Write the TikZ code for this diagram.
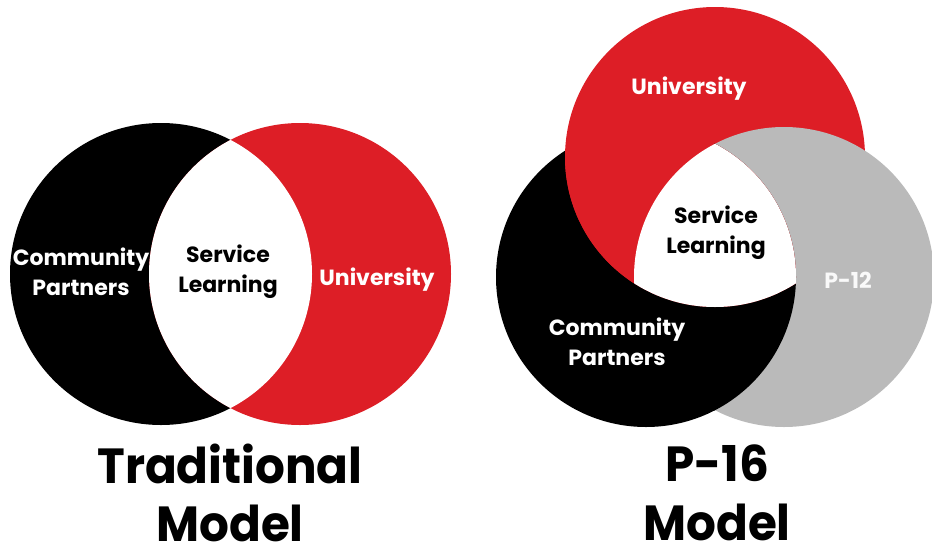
\documentclass[tikz,border=0pt]{standalone}
\usepackage{fontspec}
\setmainfont{Poppins}

\definecolor{uniRed}{RGB}{221,30,38}
\definecolor{pGray}{RGB}{186,186,186}

% circles of the two models
\def\tradComm{(161,274) circle (151)}
\def\tradUni{(300,274) circle (151)}
\def\pComm{(646,277) circle (150)}
\def\pUni{(715,157) circle (150)}
\def\pSchool{(784,277) circle (150)}

\tikzset{
	setlabel/.style={text=white, font=\fontsize{16.5}{22.5}\selectfont\bfseries, align=center, inner sep=0pt},
	corelabel/.style={setlabel, text=black},
	modeltitle/.style={font=\fontsize{37}{44}\selectfont\bfseries, align=center, inner sep=0pt, xscale=0.95}
}

\begin{document}
\begin{tikzpicture}[x=0.75pt, y=-0.75pt]
		
		\useasboundingbox (0,0) rectangle (932,554);
		
		%Traditional model
		\fill[black] \tradComm;
		\fill[uniRed] \tradUni;
		\begin{scope}
			\clip \tradComm;
			\fill[white] \tradUni;
		\end{scope}
		
		\node (TradCommunity) at (81,272) [setlabel]{Community\\Partners};
		\node (TradService) at (228,272) [corelabel]{Service\\Learning};
		\node (TradUniversity) at (377,280) [setlabel]{University};
		
		%P-16 model
		\fill[black] \pComm;
		\fill[uniRed] \pUni;
		\fill[pGray] \pSchool;
		\begin{scope}
			\clip (784,277) circle (151);
			\fill[black] \pComm;
		\end{scope}
		\begin{scope}
			\clip \pComm;
			\fill[uniRed] \pUni;
		\end{scope}
		\begin{scope}
			\clip \pComm;
			\clip \pUni;
			\fill[white] \pSchool;
		\end{scope}
		
		\node (P16University) at (689,89) [setlabel]{University};
		\node (P16Service) at (716,233) [corelabel]{Service\\Learning};
		\node (P16School) at (848,280) [setlabel, text=white!95!gray]{P-12};
		\node (P16Community) at (617,342) [setlabel]{Community\\Partners};
		
		%Titles
		\node (TradTitle) at (230,493) [modeltitle]{Traditional\\Model};
		\node (P16Title) at (717,493) [modeltitle]{P-16\\Model};
		
\end{tikzpicture}
\end{document}
